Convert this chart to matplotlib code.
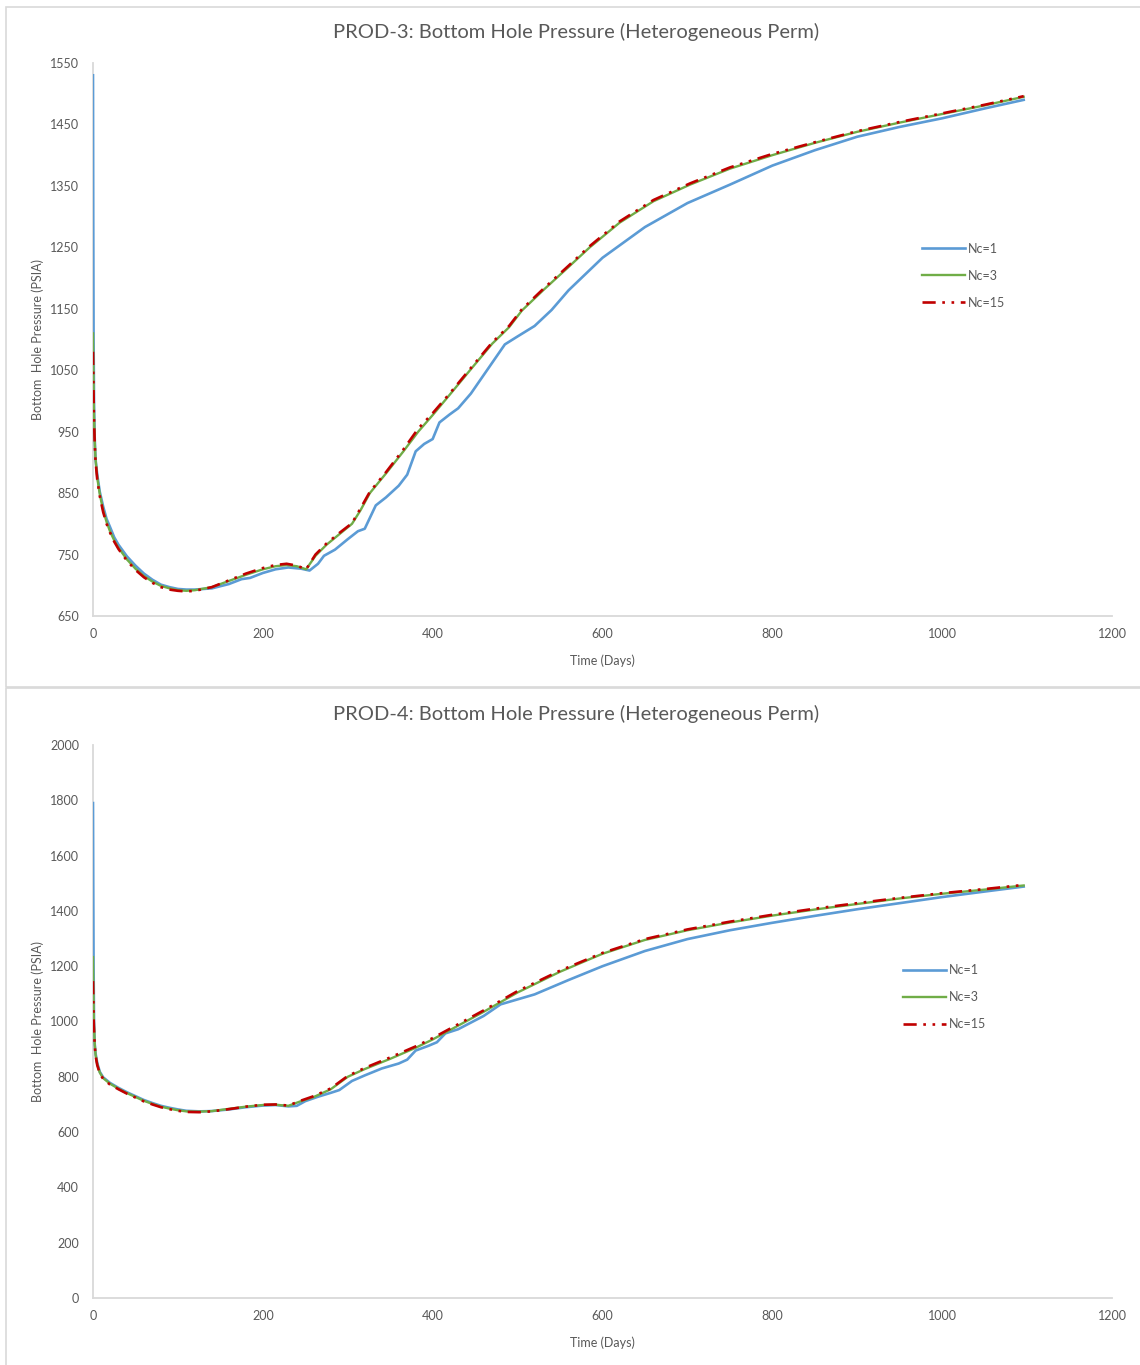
import matplotlib
matplotlib.use('Agg')
import matplotlib.pyplot as plt
from matplotlib.patches import Rectangle

plt.rcParams['font.family'] = ['Lato', 'DejaVu Sans']

# ---- PROD-3 data ----
p3_t1 = [0, 0.3, 0.7, 1.2, 2, 3, 5, 8, 12, 16, 20, 25, 30, 40, 50, 60, 70, 80, 90, 100,
         110, 120, 140, 160, 175, 185, 200, 215, 230, 245, 255, 265, 272, 285, 300, 312,
         320, 333, 345, 360, 370, 380, 390, 400, 408, 420, 430, 445, 460, 475, 485, 500,
         520, 540, 560, 600, 650, 700, 750, 800, 850, 900, 950, 1000, 1050, 1096]
p3_nc1 = [1530, 1300, 1100, 1000, 940, 905, 880, 852, 828, 808, 795, 778, 766, 747, 732,
          719, 709, 701, 697, 694, 693, 693, 695, 702, 710, 712, 720, 726, 729, 727, 724,
          735, 748, 758, 775, 788, 792, 830, 843, 862, 880, 918, 930, 938, 965, 978, 988,
          1012, 1042, 1072, 1092, 1105, 1122, 1148, 1180, 1233, 1283, 1322, 1352, 1383,
          1408, 1430, 1446, 1460, 1476, 1490]

p3_t3 = [0, 0.5, 1, 2, 3, 5, 8, 12, 16, 20, 25, 30, 40, 50, 60, 70, 80, 90, 100, 110, 120,
         140, 160, 180, 200, 215, 228, 240, 251, 262, 275, 290, 305, 315, 326, 345, 365,
         383, 400, 420, 444, 470, 490, 505, 530, 560, 585, 620, 660, 703, 750, 800, 850,
         900, 950, 1000, 1050, 1096]
p3_nc3 = [1110, 1040, 985, 935, 905, 875, 848, 822, 803, 788, 773, 761, 742, 727, 715, 706,
          699, 695, 692, 691, 692, 697, 707, 717, 726, 731, 733, 731, 726, 748, 766, 783,
          800, 822, 850, 882, 917, 950, 977, 1010, 1050, 1093, 1120, 1147, 1180, 1218,
          1250, 1290, 1325, 1352, 1378, 1400, 1420, 1438, 1453, 1467, 1481, 1495]
p3_nc15 = [1080, 1030, 980, 932, 902, 872, 845, 819, 800, 786, 771, 759, 740, 725, 713,
           704, 697, 693, 691, 690, 691, 697, 708, 719, 728, 733, 735, 732, 726, 750, 768,
           785, 801, 825, 852, 884, 920, 955, 980, 1012, 1052, 1095, 1122, 1149, 1182,
           1220, 1252, 1292, 1327, 1354, 1380, 1402, 1421, 1439, 1454, 1468, 1482, 1496]

# ---- PROD-4 data ----
p4_t1 = [0, 0.3, 0.7, 1.2, 2, 3, 5, 8, 12, 20, 30, 40, 50, 60, 70, 80, 90, 100, 110, 125,
         140, 160, 180, 200, 215, 230, 240, 250, 265, 280, 290, 305, 320, 340, 360, 370,
         380, 395, 405, 415, 430, 460, 480, 500, 520, 560, 600, 650, 700, 750, 800, 850,
         900, 950, 1000, 1050, 1096]
p4_nc1 = [1790, 1500, 1200, 1000, 920, 885, 850, 818, 798, 778, 760, 744, 730, 716, 705,
          695, 688, 682, 677, 675, 676, 682, 690, 696, 698, 693, 695, 712, 728, 742, 752,
          785, 805, 830, 848, 862, 895, 912, 925, 957, 972, 1020, 1062, 1080, 1098, 1150,
          1200, 1255, 1298, 1330, 1357, 1382, 1406, 1428, 1450, 1470, 1488]

p4_t3 = [0, 0.5, 1, 2, 3, 5, 8, 12, 20, 30, 40, 50, 60, 70, 80, 90, 100, 110, 125, 140,
         160, 180, 200, 215, 230, 245, 260, 280, 300, 320, 350, 380, 400, 430, 460, 500,
         550, 600, 650, 700, 750, 800, 850, 900, 950, 1000, 1050, 1096]
p4_nc3 = [1233, 1100, 1000, 920, 880, 845, 815, 795, 775, 757, 741, 727, 713, 702, 692,
          685, 679, 675, 674, 676, 684, 692, 698, 699, 695, 712, 727, 755, 800, 828, 865,
          905, 935, 985, 1035, 1105, 1180, 1245, 1295, 1330, 1358, 1383, 1405, 1425,
          1445, 1462, 1477, 1492]
p4_nc15 = [1146, 1060, 985, 915, 877, 842, 812, 792, 772, 755, 739, 725, 711, 700, 690,
           683, 677, 673, 672, 675, 683, 692, 699, 700, 696, 714, 730, 758, 803, 832, 870,
           910, 940, 990, 1040, 1110, 1184, 1248, 1298, 1333, 1361, 1386, 1408, 1428,
           1447, 1464, 1479, 1494]

times = [0, 200, 400, 600, 800, 1000, 1200]
labels = ['Nc=1', 'Nc=3', 'Nc=15']

BLUE = '#5B9BD5'
GREEN = '#70AD47'
RED = '#C00000'
GRID = '#D9D9D9'
TXT = '#595959'


def make_panel(ax, t1, nc1, t3, nc3, nc15, yticks, title, title_y, leg_anchor):
    ax.plot(t1, nc1, color=BLUE, lw=1.9, label=labels[0], solid_joinstyle='round',
            zorder=3)
    ax.plot(t3, nc3, color=GREEN, lw=1.7, label=labels[1], solid_joinstyle='round',
            zorder=3)
    ax.plot(t3, nc15, color=RED, lw=1.9, label=labels[2],
            linestyle=(0, (5, 2.5, 1, 2.5, 1, 2.5)), zorder=3)

    ax.set_xlim(0, 1200)
    ax.set_ylim(yticks[0], yticks[-1])
    ax.set_xticks(times)
    ax.set_yticks(yticks)
    for s in ['top', 'right']:
        ax.spines[s].set_visible(False)
    for s in ['left', 'bottom']:
        ax.spines[s].set_color(GRID)
        ax.spines[s].set_linewidth(1.3)
    ax.tick_params(length=0, colors=TXT, labelsize=9)
    ax.tick_params(axis='y', pad=10)
    ax.tick_params(axis='x', pad=9)

    ax.set_xlabel('Time (Days)', color=TXT, fontsize=9, labelpad=10)
    ax.set_ylabel('Bottom  Hole Pressure (PSIA)', color=TXT, fontsize=9)
    ax.yaxis.set_label_coords(-0.048, 0.5)

    fig.text(576 / 1140, title_y, title, ha='center', va='center', fontsize=14.5,
             color=TXT)

    leg = ax.legend(loc='upper left', bbox_to_anchor=leg_anchor, frameon=False,
                    fontsize=9, handlelength=3.4, handletextpad=0.25,
                    labelspacing=1.2, borderpad=0, borderaxespad=0)
    for t in leg.get_texts():
        t.set_color(TXT)


fig = plt.figure(figsize=(11.4, 13.65), dpi=100)

# chart area frames
fig.patches.append(Rectangle((6 / 1140, 1 - 686.5 / 1365), 1140 / 1140, 680 / 1365,
                             transform=fig.transFigure, fill=False, edgecolor=GRID,
                             lw=1.2))
fig.patches.append(Rectangle((6 / 1140, 1 - 1380 / 1365), 1140 / 1140, 692 / 1365,
                             transform=fig.transFigure, fill=False, edgecolor=GRID,
                             lw=1.2))

ax1 = fig.add_axes([93 / 1140, 1 - 616 / 1365, 1019 / 1140, 553 / 1365])
make_panel(ax1, p3_t1, p3_nc1, p3_t3, p3_nc3, p3_nc15, list(range(650, 1551, 100)),
           'PROD-3: Bottom Hole Pressure (Heterogeneous Perm)', 1 - 32 / 1365,
           ((922 - 93) / 1019, 0.675))

ax2 = fig.add_axes([93 / 1140, 1 - 1298 / 1365, 1019 / 1140, 553 / 1365])
make_panel(ax2, p4_t1, p4_nc1, p4_t3, p4_nc3, p4_nc15, list(range(0, 2001, 200)),
           'PROD-4: Bottom Hole Pressure (Heterogeneous Perm)', 1 - 714 / 1365,
           ((903 - 93) / 1019, 0.604))

fig.savefig('out.png', dpi=100)
